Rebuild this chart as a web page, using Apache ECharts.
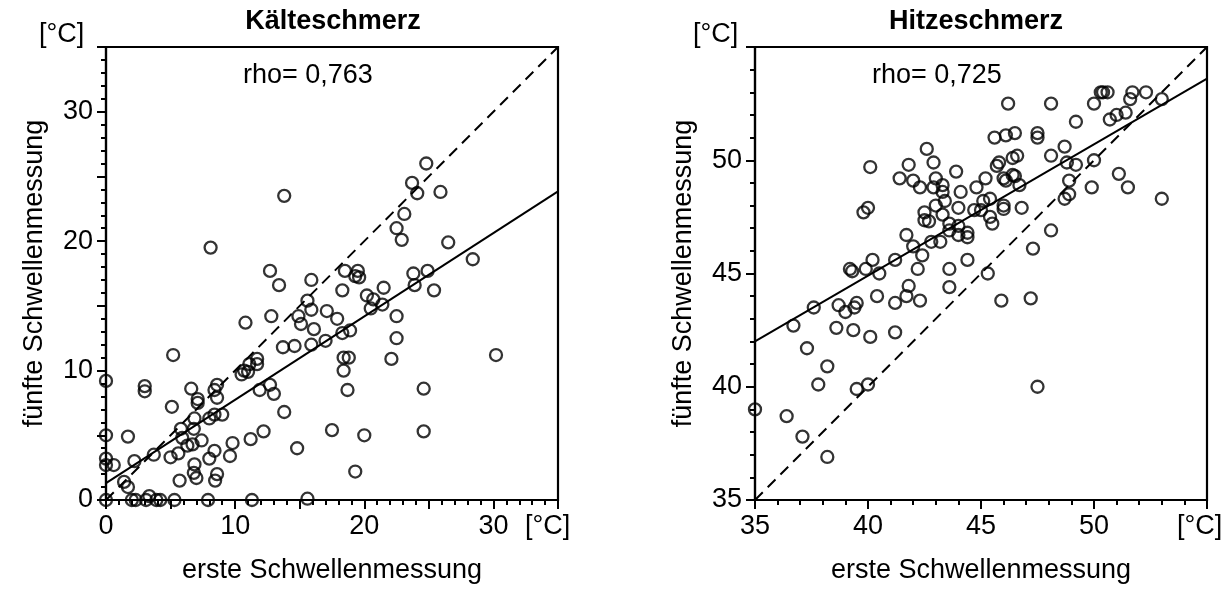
<!DOCTYPE html>
<html>
<head>
<meta charset="utf-8">
<script src="https://cdn.jsdelivr.net/npm/echarts@6/dist/echarts.min.js"></script>
<style>
html,body{margin:0;padding:0;background:#fff;}
#chart{width:1229px;height:590px;}
</style>
</head>
<body>
<div id="chart"></div>
<script>
// ---- Data ----
const coldTitle = 'Kälteschmerz';
const heatTitle = 'Hitzeschmerz';
const coldRho = 'rho= 0,763';
const heatRho = 'rho= 0,725';
const xAxisName = 'erste Schwellenmessung';
const yAxisName = 'fünfte Schwellenmessung';
const unitLabel = '[°C]';

// Kälteschmerz: [erste, fünfte]
const coldPoints = [
  [0,0],[2.0,0],[2.3,0],[3.1,0],[3.35,0.3],[3.9,0],[4.2,0],[5.3,0],[7.9,0],[11.3,0],[15.6,0.1],
  [0,2.7],[0,3.2],[0,5.0],[0,9.2],
  [0.6,2.7],[1.4,1.4],[1.7,1.0],[1.7,4.9],[2.2,3.0],[3.0,8.8],[3.0,8.4],[3.7,3.5],
  [5.0,3.3],[5.2,11.2],[5.1,7.2],[5.6,3.6],[5.7,1.5],[5.8,5.5],[5.9,4.8],[6.3,4.2],[6.7,4.3],
  [6.8,5.5],[6.85,6.3],[6.6,8.6],[6.85,2.75],[6.8,2.1],[7.0,1.7],[7.1,7.8],[7.1,7.5],[7.4,4.6],
  [8.0,3.2],[8.0,6.3],[8.4,3.8],[8.4,6.6],[8.4,8.5],[8.6,8.9],[8.6,7.9],[8.6,2.0],[8.45,1.5],
  [9.0,6.6],[9.6,3.4],[9.8,4.4],[8.1,19.5],
  [10.5,9.7],[10.7,10.0],[11.0,9.9],[11.1,10.5],[11.7,10.5],[11.7,10.9],[10.8,13.7],[11.2,4.7],
  [11.9,8.5],[12.2,5.3],[12.7,8.9],[13.0,8.2],[12.7,17.7],[12.8,14.2],[13.4,16.6],[13.7,11.8],
  [13.8,6.8],[13.8,23.5],[14.6,11.9],[14.8,4.0],[14.9,14.2],[15.1,13.6],[15.6,15.4],[15.9,14.7],
  [15.9,12.0],[15.9,17.0],[16.1,13.2],[17.0,12.3],[17.1,14.6],[17.5,5.4],[17.9,14.0],[18.3,16.2],
  [18.3,12.9],[18.9,13.1],[18.4,11.0],[18.8,11.0],[18.4,10.0],[18.7,8.5],[18.5,17.7],[19.3,17.3],
  [19.6,17.2],[19.5,17.7],[19.3,2.2],[20.0,5.0],[20.2,15.8],[20.5,14.8],[20.7,15.5],[21.4,15.1],
  [21.5,16.4],[22.1,10.9],[22.5,14.2],[22.5,12.5],[22.5,21.0],[22.9,20.1],[23.1,22.1],[23.7,24.5],
  [23.8,17.5],[23.9,16.6],[24.1,23.7],[24.6,8.6],[24.6,5.3],[24.8,26.0],[24.9,17.7],[25.4,16.2],
  [25.9,23.8],[26.5,19.9],[28.4,18.6],[30.2,11.2]
];
const coldFit = [[0,1.3],[35,23.85]];
const coldIdentity = [[0,0],[35,35]];

// Hitzeschmerz: [erste, fünfte]
const heatPoints = [
  [35.0,39.0],[36.4,38.7],[37.1,37.8],[38.2,36.9],[37.3,41.7],[36.7,42.7],[37.6,43.5],[37.8,40.1],
  [38.2,40.9],[39.5,39.9],[40.0,40.1],[38.6,42.6],[38.7,43.6],[39.0,43.3],[39.4,43.5],[39.5,43.7],
  [39.35,42.5],[39.2,45.2],[39.3,45.1],[39.9,45.2],[40.2,45.6],[40.5,45.0],[40.4,44.0],[40.1,42.2],
  [41.2,42.4],[41.2,43.7],[41.2,45.6],[39.8,47.7],[40.0,47.9],[40.1,49.7],[41.4,49.2],[41.8,49.8],
  [42.0,49.1],[42.3,48.8],[41.7,46.7],[42.0,46.2],[42.4,45.8],[42.2,45.2],[41.8,44.45],[41.7,44.0],
  [42.3,43.8],[42.6,50.5],[42.9,49.9],[43.0,49.2],[42.9,48.8],[43.3,48.9],[43.3,48.6],[43.0,48.0],
  [43.4,48.2],[42.5,47.7],[42.5,47.35],[42.7,47.3],[43.3,47.6],[43.6,47.2],[43.6,46.9],[44.0,47.1],
  [44.0,46.7],[44.4,46.8],[44.4,46.6],[42.8,46.4],[43.2,46.4],[43.6,45.2],[43.6,44.4],[44.4,45.6],
  [43.9,49.5],[44.1,48.6],[44.0,47.9],[44.7,47.8],[44.8,48.8],[45.0,47.8],[45.1,48.2],[45.2,49.2],
  [45.4,48.3],[45.4,47.5],[45.5,47.2],[45.3,45.0],[45.9,43.8],[45.6,51.0],[45.8,49.9],[45.7,49.75],
  [46.0,49.2],[46.1,49.1],[46.0,48.0],[46.0,47.85],[46.2,52.5],[46.1,51.1],[46.5,51.2],[46.4,50.1],
  [46.6,50.2],[46.4,49.35],[46.5,49.3],[46.7,48.9],[46.8,47.9],[47.5,51.2],[47.5,51.0],[47.3,46.1],
  [47.2,43.9],[47.5,40.0],[48.1,52.5],[48.1,50.2],[48.1,46.9],[48.7,50.6],[48.8,49.9],[49.2,49.8],
  [48.9,49.1],[48.7,48.3],[48.9,48.5],[49.2,51.7],[49.9,48.8],[50.0,50.0],[50.0,52.5],[50.3,53.0],
  [50.4,53.0],[50.6,53.0],[50.7,51.8],[51.0,52.0],[51.4,52.1],[51.1,49.4],[51.5,48.8],[51.6,52.7],
  [51.7,53.0],[52.3,53.0],[53.0,52.7],[53.0,48.3]
];
const heatFit = [[35,42.0],[55,53.6]];
const heatIdentity = [[35,35],[55,55]];

// axis ranges
const coldRange = [0, 35];
const heatRange = [35, 55];

// ---- Chart ----
const FONT = '"Liberation Sans", Arial, Helvetica, sans-serif';
const chart = echarts.init(document.getElementById('chart'), null, {renderer: 'canvas'});

function makeAxis(dim, gridIndex, range, labelStep, showName) {
  const isX = dim === 'x';
  return {
    type: 'value',
    gridIndex: gridIndex,
    min: range[0],
    max: range[1],
    interval: 5,
    name: showName,
    nameLocation: 'middle',
    nameGap: isX ? 57 : 58,
    nameTextStyle: {fontFamily: FONT, fontSize: 27, color: '#000'},
    axisLine: {show: true, onZero: false, lineStyle: {color: '#000', width: 2.2}},
    axisTick: {show: true, inside: false, length: 9, lineStyle: {color: '#000', width: 2}},
    minorTick: {show: true, splitNumber: 5, length: 5, lineStyle: {color: '#000', width: 2}},
    splitLine: {show: false},
    minorSplitLine: {show: false},
    axisLabel: {
      show: true,
      margin: 13,
      fontFamily: FONT,
      fontSize: 27,
      color: '#000',
      showMaxLabel: true,
      showMinLabel: true,
      formatter: function (v) {
        return (Math.round(v) % labelStep === 0 && v !== range[1]) ? String(v) : '';
      }
    }
  };
}

const circleStyle = {color: 'rgba(255,255,255,0)', borderColor: '#000', borderWidth: 2.3};

const option = {
  backgroundColor: '#fff',
  animation: false,
  title: [
    {text: coldTitle, left: 328, top: 3, textAlign: 'center',
     textStyle: {fontFamily: FONT, fontSize: 27, fontWeight: 'bold', color: '#000'}},
    {text: heatTitle, left: 971, top: 3, textAlign: 'center',
     textStyle: {fontFamily: FONT, fontSize: 27, fontWeight: 'bold', color: '#000'}}
  ],
  grid: [
    {left: 106, top: 47, width: 452, height: 453, show: true, borderColor: '#000', borderWidth: 2.2, backgroundColor: 'rgba(0,0,0,0)'},
    {left: 755, top: 47, width: 452, height: 453, show: true, borderColor: '#000', borderWidth: 2.2, backgroundColor: 'rgba(0,0,0,0)'}
  ],
  xAxis: [
    makeAxis('x', 0, coldRange, 10, xAxisName),
    makeAxis('x', 1, heatRange, 5, xAxisName)
  ],
  yAxis: [
    makeAxis('y', 0, coldRange, 10, yAxisName),
    makeAxis('y', 1, heatRange, 5, yAxisName)
  ],
  graphic: [
    {type: 'text', left: 243, top: 62, style: {text: coldRho, font: '27px ' + FONT, fill: '#000'}},
    {type: 'text', left: 872, top: 62, style: {text: heatRho, font: '27px ' + FONT, fill: '#000'}},
    {type: 'text', left: 39, top: 21, style: {text: unitLabel, font: '27px ' + FONT, fill: '#000'}},
    {type: 'text', left: 693, top: 21, style: {text: unitLabel, font: '27px ' + FONT, fill: '#000'}},
    {type: 'text', left: 525, top: 513, style: {text: unitLabel, font: '27px ' + FONT, fill: '#000'}},
    {type: 'text', left: 1177, top: 513, style: {text: unitLabel, font: '27px ' + FONT, fill: '#000'}}
  ],
  series: [
    {type: 'line', xAxisIndex: 0, yAxisIndex: 0, data: coldIdentity, showSymbol: false, symbol: 'none',
     lineStyle: {color: '#000', width: 2, type: [11, 7]}, z: 2},
    {type: 'line', xAxisIndex: 0, yAxisIndex: 0, data: coldFit, showSymbol: false, symbol: 'none',
     lineStyle: {color: '#000', width: 2}, z: 2},
    {type: 'scatter', xAxisIndex: 0, yAxisIndex: 0, data: coldPoints, symbol: 'circle', symbolSize: 12,
     itemStyle: circleStyle, z: 3},
    {type: 'line', xAxisIndex: 1, yAxisIndex: 1, data: heatIdentity, showSymbol: false, symbol: 'none',
     lineStyle: {color: '#000', width: 2, type: [11, 7]}, z: 2},
    {type: 'line', xAxisIndex: 1, yAxisIndex: 1, data: heatFit, showSymbol: false, symbol: 'none',
     lineStyle: {color: '#000', width: 2}, z: 2},
    {type: 'scatter', xAxisIndex: 1, yAxisIndex: 1, data: heatPoints, symbol: 'circle', symbolSize: 12,
     itemStyle: circleStyle, z: 3}
  ]
};
chart.setOption(option);
</script>
</body>
</html>
